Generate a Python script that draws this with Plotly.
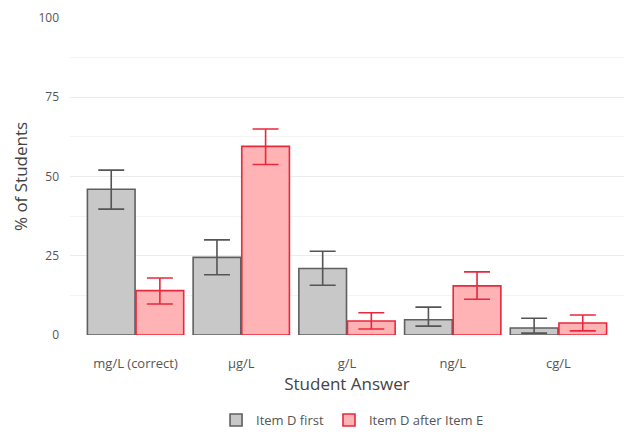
import plotly.graph_objects as go

answers = ["mg/L (correct)", "µg/L", "g/L", "ng/L", "cg/L"]

d_first = [46, 24.5, 21, 4.8, 2.2]
d_first_hi = [52, 30, 26.4, 8.8, 5.3]
d_first_lo = [39.7, 19, 15.7, 2.8, 0.6]

d_after_e = [14, 59.5, 4.4, 15.5, 3.8]
d_after_e_hi = [18, 65, 7, 19.9, 6.3]
d_after_e_lo = [9.8, 53.8, 1.9, 11.3, 1.3]

x_idx = list(range(len(answers)))


def err(vals, hi, lo):
    return dict(
        type="data", symmetric=False,
        array=[h - v for v, h in zip(vals, hi)],
        arrayminus=[v - l for v, l in zip(vals, lo)],
        width=13, thickness=1.6,
    )


fig = go.Figure()
fig.add_trace(go.Bar(
    x=x_idx, y=d_first, name="Item D first",
    marker=dict(color="#c8c8c8", line=dict(color="#5f5f5f", width=1.6)),
    error_y={**err(d_first, d_first_hi, d_first_lo), "color": "#555555"},
))
fig.add_trace(go.Bar(
    x=x_idx, y=d_after_e, name="Item D after Item E",
    marker=dict(color="#ffb3b5", line=dict(color="#e8283c", width=1.6)),
    error_y={**err(d_after_e, d_after_e_hi, d_after_e_lo), "color": "#e8283c"},
))

fig.update_layout(
    width=624, height=435,
    margin=dict(l=70, r=0, t=18, b=99),
    paper_bgcolor="white", plot_bgcolor="white",
    font=dict(family="Open Sans", color="#555555", size=12),
    barmode="group", bargap=0.08, bargroupgap=0.02,
    showlegend=True,
    legend=dict(orientation="h", x=0.51, xanchor="center", y=-0.27, yanchor="middle",
                font=dict(size=13, color="#555555"), itemwidth=30),
    xaxis=dict(
        tickmode="array", tickvals=x_idx, ticktext=answers,
        range=[-0.62, 4.62], showgrid=False, zeroline=False, showline=False,
        ticks="", ticklabelstandoff=19,
        tickfont=dict(size=13, color="#555555"),
        title=dict(text="Student Answer", font=dict(size=17, color="#444444"), standoff=6),
    ),
    yaxis=dict(
        range=[0, 100], tickvals=[0, 25, 50, 75, 100],
        showgrid=True, gridcolor="#ececec", gridwidth=1,
        minor=dict(tickvals=[12.5, 37.5, 62.5, 87.5], showgrid=True, gridcolor="#f3f3f3"),
        zeroline=False, showline=False, ticks="", ticklabelstandoff=10,
        tickfont=dict(size=12, color="#555555"),
        title=dict(text="% of Students", font=dict(size=17, color="#444444"), standoff=6),
    ),
)

fig.write_html("out.html")
